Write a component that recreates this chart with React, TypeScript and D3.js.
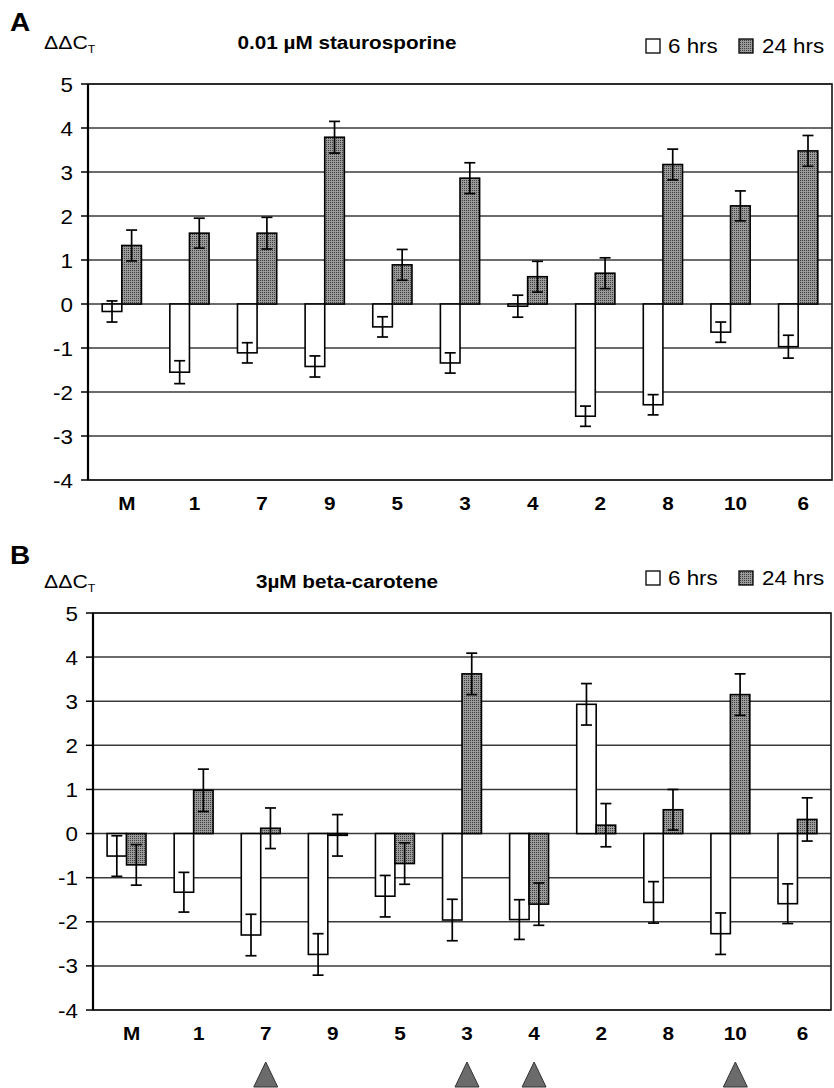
import React from 'react';
import * as d3 from 'd3';

// sample order on the x axis
const categories = ['M', '1', '7', '9', '5', '3', '4', '2', '8', '10', '6'];
const yTicks = [5, 4, 3, 2, 1, 0, -1, -2, -3, -4];

// A: 0.01 uM staurosporine
const stauro6h = [-0.17, -1.55, -1.11, -1.42, -0.52, -1.34, -0.05, -2.55, -2.29, -0.64, -0.97];
const stauro6hErr = [0.24, 0.26, 0.23, 0.24, 0.23, 0.23, 0.25, 0.23, 0.23, 0.23, 0.26];
const stauro24h = [1.33, 1.61, 1.61, 3.79, 0.89, 2.86, 0.62, 0.7, 3.17, 2.23, 3.48];
const stauro24hErr = [0.35, 0.34, 0.36, 0.36, 0.35, 0.35, 0.35, 0.35, 0.35, 0.34, 0.35];

// B: 3 uM beta-carotene
const carot6h = [-0.51, -1.33, -2.3, -2.74, -1.42, -1.96, -1.95, 2.93, -1.56, -2.27, -1.59];
const carot6hErr = [0.46, 0.45, 0.47, 0.47, 0.47, 0.47, 0.45, 0.47, 0.47, 0.47, 0.45];
const carot24h = [-0.71, 0.98, 0.12, -0.04, -0.68, 3.62, -1.6, 0.19, 0.54, 3.15, 0.32];
const carot24hErr = [0.46, 0.48, 0.46, 0.47, 0.47, 0.47, 0.48, 0.49, 0.46, 0.47, 0.49];

// samples marked with a triangle under panel B
const marked = ['7', '3', '4', '10'];

const FONT = '"Liberation Sans", Arial, sans-serif';
const SX = 1.12;

function T({ x, y, children, size, bold, anchor }: any) {
  return (
    <text
      transform={`translate(${x},${y}) scale(${SX},1)`}
      fontSize={size}
      fontWeight={bold ? 'bold' : 'normal'}
      textAnchor={anchor || 'start'}
      fontFamily={FONT}
      fill="#000"
    >
      {children}
    </text>
  );
}

function Panel({ cfg }: any) {
  const x = d3.scaleBand<string>().domain(categories).range([cfg.left, cfg.right]);
  const y = d3.scaleLinear().domain([-4, 5]).range([cfg.bottom, cfg.top]);
  const bw = x.bandwidth() * 0.29;
  const cap = 5.5;

  const bars = categories.map((c, i) => {
    const cx = (x(c) as number) + x.bandwidth() / 2;
    const v6 = cfg.v6[i], e6 = cfg.e6[i];
    const v24 = cfg.v24[i], e24 = cfg.e24[i];
    const err = (bx: number, v: number, e: number) => (
      <g stroke="#000" strokeWidth={1.7}>
        <line x1={bx} x2={bx} y1={y(v + e)} y2={y(v - e)} />
        <line x1={bx - cap} x2={bx + cap} y1={y(v + e)} y2={y(v + e)} />
        <line x1={bx - cap} x2={bx + cap} y1={y(v - e)} y2={y(v - e)} />
      </g>
    );
    return (
      <g key={c}>
        <rect x={cx - bw} width={bw} y={Math.min(y(v6), y(0))} height={Math.abs(y(v6) - y(0))}
          fill="#fff" stroke="#000" strokeWidth={1.6} />
        <rect x={cx} width={bw} y={Math.min(y(v24), y(0))} height={Math.abs(y(v24) - y(0))}
          fill="url(#stipple)" stroke="#000" strokeWidth={1.6} />
        {err(cx - bw / 2, v6, e6)}
        {err(cx + bw / 2, v24, e24)}
      </g>
    );
  });

  return (
    <g>
      <T x={10} y={cfg.letterY} size={25} bold>{cfg.letter}</T>
      <text transform={`translate(44,${cfg.headY}) scale(${SX},1)`} fontFamily={FONT} fontSize={19}>
        ΔΔC<tspan fontSize={11} dy={4}>T</tspan>
      </text>
      <T x={347} y={cfg.headY} size={18.5} bold anchor="middle">{cfg.title}</T>
      <rect x={646} y={cfg.legY - 14} width={14} height={14} fill="#fff" stroke="#000" strokeWidth={1.3} />
      <T x={668} y={cfg.legY} size={20}>6 hrs</T>
      <rect x={739} y={cfg.legY - 14} width={14} height={14} fill="url(#stipple)" stroke="#000" strokeWidth={1.3} />
      <T x={762} y={cfg.legY} size={20}>24 hrs</T>

      {yTicks.map(t => (
        <g key={t}>
          <line x1={cfg.left} x2={cfg.right} y1={y(t)} y2={y(t)} stroke="#3a3a3a" strokeWidth={1.5} />
          <line x1={cfg.left - 7} x2={cfg.left} y1={y(t)} y2={y(t)} stroke="#000" strokeWidth={1.5} />
          <T x={cfg.left - 15} y={y(t) + 7.5} size={20} anchor="end">{t}</T>
        </g>
      ))}
      <rect x={cfg.left} y={cfg.top} width={cfg.right - cfg.left} height={cfg.bottom - cfg.top}
        fill="none" stroke="#222" strokeWidth={1.7} />
      <line x1={cfg.left} x2={cfg.left} y1={cfg.top} y2={cfg.bottom} stroke="#000" strokeWidth={2.2} />
      {bars}
      {categories.map(c => (
        <T key={c} x={(x(c) as number) + x.bandwidth() / 2 + 5} y={cfg.bottom + 30} size={18.5} bold anchor="middle">{c}</T>
      ))}
      {cfg.marks &&
        cfg.marks.map((c: string) => {
          const cx = (x(c) as number) + x.bandwidth() / 2 + 5;
          return (
            <polygon key={c} points={`${cx},1062 ${cx - 12},1087 ${cx + 12},1087`}
              fill="#6b6b6b" stroke="#333" strokeWidth={1} />
          );
        })}
    </g>
  );
}

export default function App() {
  const panelA = {
    letter: 'A', title: '0.01 µM staurosporine',
    left: 88, right: 832, top: 84, bottom: 480,
    letterY: 31, headY: 49, legY: 53,
    v6: stauro6h, e6: stauro6hErr, v24: stauro24h, e24: stauro24hErr,
  };
  const panelB = {
    letter: 'B', title: '3µM beta-carotene',
    left: 93, right: 831, top: 613, bottom: 1010,
    letterY: 564, headY: 588, legY: 585,
    v6: carot6h, e6: carot6hErr, v24: carot24h, e24: carot24hErr,
    marks: marked,
  };
  return (
    <svg width={834} height={1088} style={{ position: 'absolute', left: 0, top: 0, background: '#fff' }}>
      <defs>
        <pattern id="stipple" width={2} height={2} patternUnits="userSpaceOnUse">
          <rect width={2} height={2} fill="#9a9a9a" />
          <rect width={1} height={1} fill="#3e3e3e" />
        </pattern>
      </defs>
      <rect width={834} height={1088} fill="#fff" />
      <Panel cfg={panelA} />
      <Panel cfg={panelB} />
    </svg>
  );
}
